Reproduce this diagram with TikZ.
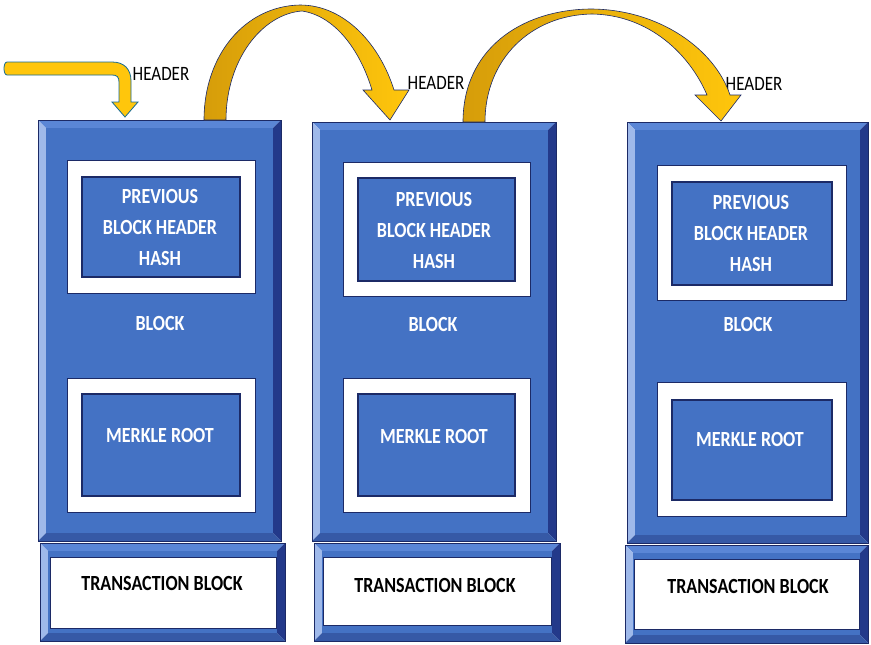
\documentclass[tikz,border=0pt]{standalone}
\usepackage{fontspec}
\setmainfont{Carlito}
\usetikzlibrary{calc}

\definecolor{face}{HTML}{4472C4}
\definecolor{bevtop}{HTML}{5A86D6}
\definecolor{bevleft}{HTML}{9FB9EA}
\definecolor{bevright}{HTML}{23398A}
\definecolor{bevbot}{HTML}{3659A6}
\definecolor{edge}{HTML}{1C2A66}
\definecolor{goldA}{HTML}{D69D0A}
\definecolor{goldB}{HTML}{FFC60C}

% bevelled panel: #1,#2 top-left corner, #3,#4 bottom-right corner, #5 bevel width
\newcommand\bevelbox[5]{%
  \fill[bevtop] (#1,#2) -- (#3,#2) -- ({#3-#5},{#2+#5}) -- ({#1+#5},{#2+#5}) -- cycle;
  \fill[bevleft] (#1,#2) -- ({#1+#5},{#2+#5}) -- ({#1+#5},{#4-#5}) -- (#1,#4) -- cycle;
  \fill[bevright] (#3,#2) -- (#3,#4) -- ({#3-#5},{#4-#5}) -- ({#3-#5},{#2+#5}) -- cycle;
  \fill[bevbot] (#1,#4) -- (#3,#4) -- ({#3-#5},{#4-#5}) -- ({#1+#5},{#4-#5}) -- cycle;
  \fill[face] ({#1+#5},{#2+#5}) rectangle ({#3-#5},{#4-#5});
  \draw[edge, line width=0.8] (#1,#2) rectangle (#3,#4);
}
\newcommand\tallt[1]{\scalebox{1}[1.2]{#1}}

\tikzset{
  whiteframe/.style={draw=edge, fill=white, line width=1, inner sep=0},
  corebox/.style={draw=edge, fill=face, line width=1.4, inner sep=0},
  wtxt/.style={text=white, font=\fontsize{18}{31}\selectfont\bfseries, align=center, inner sep=0},
  btxt/.style={text=black, font=\fontsize{18}{22}\selectfont\bfseries, align=center, inner sep=0},
  hdr/.style={text=black, font=\fontsize{17}{19}\selectfont, inner sep=0},
  goldarrow/.style={draw=edge, line width=0.6, left color=goldA, right color=goldB},
  bentarrow/.style={draw=edge!70!cyan, line width=0.8, fill=goldB},
}

\begin{document}
\begin{tikzpicture}[x=1pt, y=-1pt]
\useasboundingbox[fill=white] (0,0) rectangle (871,645);

% ---------- block 1 ----------
\bevelbox{38}{120}{281}{541}{8}
\bevelbox{40}{543}{285}{641}{8}
\node[whiteframe, minimum width=226, minimum height=71] (tx1) at (163.5,592.5) {};
\node[whiteframe, minimum width=188, minimum height=133] (pf1) at (161,226.5) {};
\node[corebox, minimum width=158, minimum height=100] (ph1) at (161,227) {};
\node[whiteframe, minimum width=188, minimum height=134] (mf1) at (161,445) {};
\node[corebox, minimum width=158, minimum height=102] (mr1) at (161,445) {};
\node[wtxt] (pt1) at (160,227) {\tallt{PREVIOUS}\\\tallt{BLOCK HEADER}\\\tallt{HASH}};
\node[wtxt] (bl1) at (160,323) {\tallt{BLOCK}};
\node[wtxt] (mt1) at (160,435) {\tallt{MERKLE ROOT}};
\node[btxt] (tt1) at (162,583) {\tallt{TRANSACTION BLOCK}};

% ---------- block 2 ----------
\bevelbox{312}{122}{556}{541}{8}
\bevelbox{314}{543}{560}{641}{8}
\node[whiteframe, minimum width=228, minimum height=68] (tx2) at (437,591.5) {};
\node[whiteframe, minimum width=187, minimum height=134] (pf2) at (436.5,229) {};
\node[corebox, minimum width=157, minimum height=103] (ph2) at (436.5,229.5) {};
\node[whiteframe, minimum width=187, minimum height=134] (mf2) at (436.5,445) {};
\node[corebox, minimum width=157, minimum height=102] (mr2) at (436.5,445) {};
\node[wtxt] (pt2) at (434,230) {\tallt{PREVIOUS}\\\tallt{BLOCK HEADER}\\\tallt{HASH}};
\node[wtxt] (bl2) at (433,324) {\tallt{BLOCK}};
\node[wtxt] (mt2) at (434,436) {\tallt{MERKLE ROOT}};
\node[btxt] (tt2) at (435,585) {\tallt{TRANSACTION BLOCK}};

% ---------- block 3 ----------
\bevelbox{627}{122}{868}{543}{8}
\bevelbox{625}{545}{868}{643}{8}
\node[whiteframe, minimum width=225, minimum height=70] (tx3) at (746.5,594) {};
\node[whiteframe, minimum width=189, minimum height=135] (pf3) at (751.5,232.5) {};
\node[corebox, minimum width=160, minimum height=103] (ph3) at (752,233.5) {};
\node[whiteframe, minimum width=189, minimum height=134] (mf3) at (751.5,449) {};
\node[corebox, minimum width=160, minimum height=100] (mr3) at (752,450) {};
\node[wtxt] (pt3) at (751,233) {\tallt{PREVIOUS}\\\tallt{BLOCK HEADER}\\\tallt{HASH}};
\node[wtxt] (bl3) at (748,324) {\tallt{BLOCK}};
\node[wtxt] (mt3) at (750,439) {\tallt{MERKLE ROOT}};
\node[btxt] (tt3) at (748,586) {\tallt{TRANSACTION BLOCK}};

% ---------- header labels ----------
\node[hdr] (h1) at (161,74) {\tallt{HEADER}};
\node[hdr] (h2) at (436,83) {\tallt{HEADER}};
\node[hdr] (h3) at (754,84) {\tallt{HEADER}};

% ---------- arrows ----------
% incoming bent arrow
\path[bentarrow] (7,62) -- (112,62) .. controls (124,62) and (131,69) .. (131,81)
  -- (131,102) -- (138,102) -- (125,117) -- (112,102) -- (119,102) -- (119,82)
  .. controls (119,77) and (117,75) .. (112,75) -- (7,75) .. controls (3,75) and (3,62) .. (7,62) -- cycle;

% block 1 -> block 2
\path[goldarrow] (204,120) .. controls (204,55) and (245,6) .. (300,5)
  .. controls (345,5) and (380,45) .. (394,90)
  -- (409,90) -- (390,120) -- (363,90) -- (372,90)
  .. controls (360,50) and (335,16) .. (302,11)
  .. controls (262,14) and (226,60) .. (226,120) -- cycle;

% block 2 -> block 3
\path[goldarrow] (463,122) .. controls (463,50) and (520,10) .. (590,9)
  .. controls (660,9) and (715,50) .. (730,95)
  -- (741,95) -- (721,121) -- (695,95) -- (707,95)
  .. controls (690,55) and (650,15) .. (592,14)
  .. controls (530,15) and (485,60) .. (485,122) -- cycle;
\end{tikzpicture}
\end{document}
